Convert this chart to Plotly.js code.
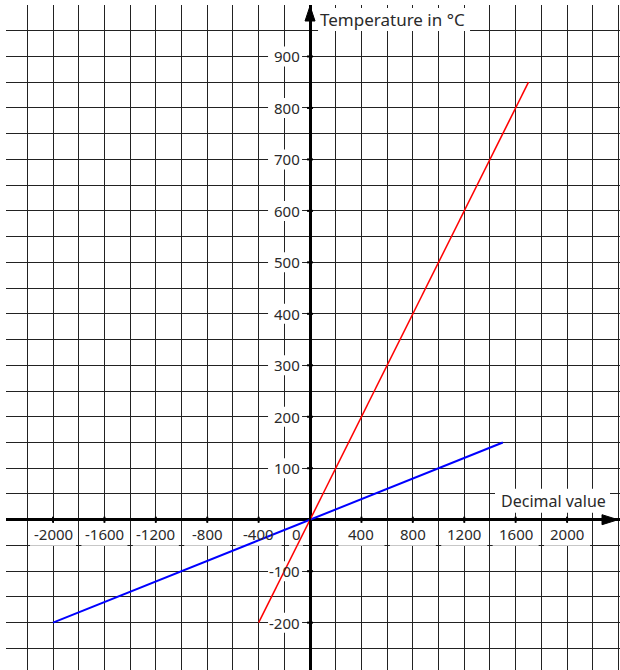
<!DOCTYPE html>
<html>
<head>
<meta charset="utf-8">
<script src="https://cdn.plot.ly/plotly-3.0.1.min.js"></script>
<style>html,body{margin:0;padding:0;background:#fff;}#chart{width:620px;height:670px;}</style>
</head>
<body>
<div id="chart"></div>
<script>
// ---- data ----
const redX = [-400, 1700];
const redY = [-200, 850];
const blueX = [-2000, 1500];
const blueY = [-200, 150];
const xTickVals = [-2000, -1600, -1200, -800, -400, 0, 400, 800, 1200, 1600, 2000];
const xTickText = ['-2000', '-1600', '-1200', '-800', '-400', '0', '400', '800', '1200', '1600', '2000'];
const yTickVals = [-200, -100, 100, 200, 300, 400, 500, 600, 700, 800, 900];
const yTickText = ['-200', '-100', '100', '200', '300', '400', '500', '600', '700', '800', '900'];
const xTitle = 'Decimal value';
const yTitle = 'Temperature in °C';
const xRange = [-2366, 2412];
const yRange = [-292, 1000];

const FONT = 'Noto Sans, Open Sans, sans-serif';
const TXT = '#2a2a2a';
const shapes = [];
const annotations = [];

function box(xa, ya, x0, x1, y0, y1) {
  shapes.push({
    type: 'rect', layer: 'between', xref: 'x', yref: 'y',
    xsizemode: 'pixel', ysizemode: 'pixel', xanchor: xa, yanchor: ya,
    x0: x0, x1: x1, y0: y0, y1: y1,
    fillcolor: 'white', line: {width: 0}
  });
}

// x tick labels
xTickVals.forEach((v, i) => {
  const isZero = v === 0;
  if (isZero) box(v, 0, -21, -7, -3, -26);
  else box(v, 0, -23, 23, -3, -26);
  annotations.push({
    x: v, y: 0, xref: 'x', yref: 'y', text: xTickText[i], showarrow: false,
    xanchor: 'center', yanchor: 'middle', xshift: isZero ? -14 : 0, yshift: -14,
    font: {family: FONT, size: 15, color: TXT}
  });
  shapes.push({
    type: 'line', layer: 'above', xref: 'x', yref: 'y',
    xsizemode: 'pixel', ysizemode: 'pixel', xanchor: v, yanchor: 0,
    x0: 0, x1: 0, y0: -3, y1: 3, line: {color: 'black', width: 2}
  });
});

// y tick labels
yTickVals.forEach((v, i) => {
  box(0, v, -42, -8, -10, 10);
  annotations.push({
    x: 0, y: v, xref: 'x', yref: 'y', text: yTickText[i], showarrow: false,
    xanchor: 'right', yanchor: 'middle', xshift: -8, yshift: 0,
    font: {family: FONT, size: 15, color: TXT}
  });
  shapes.push({
    type: 'line', layer: 'above', xref: 'x', yref: 'y',
    xsizemode: 'pixel', ysizemode: 'pixel', xanchor: 0, yanchor: v,
    x0: -3, x1: 3, y0: 0, y1: 0, line: {color: 'black', width: 2}
  });
});

// axis titles
box(0, yRange[1], 8, 160, -3, -26);
annotations.push({
  x: 0, y: yRange[1], xref: 'x', yref: 'y', text: yTitle, showarrow: false,
  xanchor: 'left', yanchor: 'middle', xshift: 8, yshift: -14,
  font: {family: FONT, size: 17, color: TXT}
});
box(xRange[1], 0, -125, -10, 7, 31);
annotations.push({
  x: xRange[1], y: 0, xref: 'x', yref: 'y', text: xTitle, showarrow: false,
  xanchor: 'right', yanchor: 'middle', xshift: -12, yshift: 19,
  font: {family: FONT, size: 16, color: TXT}
});

// arrowheads
shapes.push({
  type: 'path', layer: 'above', xref: 'x', yref: 'y',
  xsizemode: 'pixel', ysizemode: 'pixel', xanchor: 0, yanchor: yRange[1],
  path: 'M -5,-16 L 0,-1 L 5,-16 Z', fillcolor: 'black', line: {color: 'black', width: 1}
});
shapes.push({
  type: 'path', layer: 'above', xref: 'x', yref: 'y',
  xsizemode: 'pixel', ysizemode: 'pixel', xanchor: xRange[1], yanchor: 0,
  path: 'M -18,5 L -2,0 L -18,-5 Z', fillcolor: 'black', line: {color: 'black', width: 1}
});

const traces = [
  {x: blueX, y: blueY, type: 'scatter', mode: 'lines', line: {color: '#0000ff', width: 2}, hoverinfo: 'skip'},
  {x: redX, y: redY, type: 'scatter', mode: 'lines', line: {color: '#ff0000', width: 1.5}, hoverinfo: 'skip'}
];

const layout = {
  width: 620, height: 670,
  margin: {l: 6, r: 0, t: 5, b: 0, pad: 0},
  paper_bgcolor: 'white', plot_bgcolor: 'white',
  showlegend: false,
  xaxis: {range: xRange, tick0: 0, dtick: 200, showticklabels: false, ticks: '',
          showgrid: true, gridcolor: '#222', gridwidth: 1,
          zeroline: true, zerolinecolor: 'black', zerolinewidth: 3, showline: false, fixedrange: true},
  yaxis: {range: yRange, tick0: 0, dtick: 50, showticklabels: false, ticks: '',
          showgrid: true, gridcolor: '#222', gridwidth: 1,
          zeroline: true, zerolinecolor: 'black', zerolinewidth: 3, showline: false, fixedrange: true},
  shapes: shapes,
  annotations: annotations
};

Plotly.newPlot('chart', traces, layout, {displayModeBar: false, staticPlot: true});
</script>
</body>
</html>
